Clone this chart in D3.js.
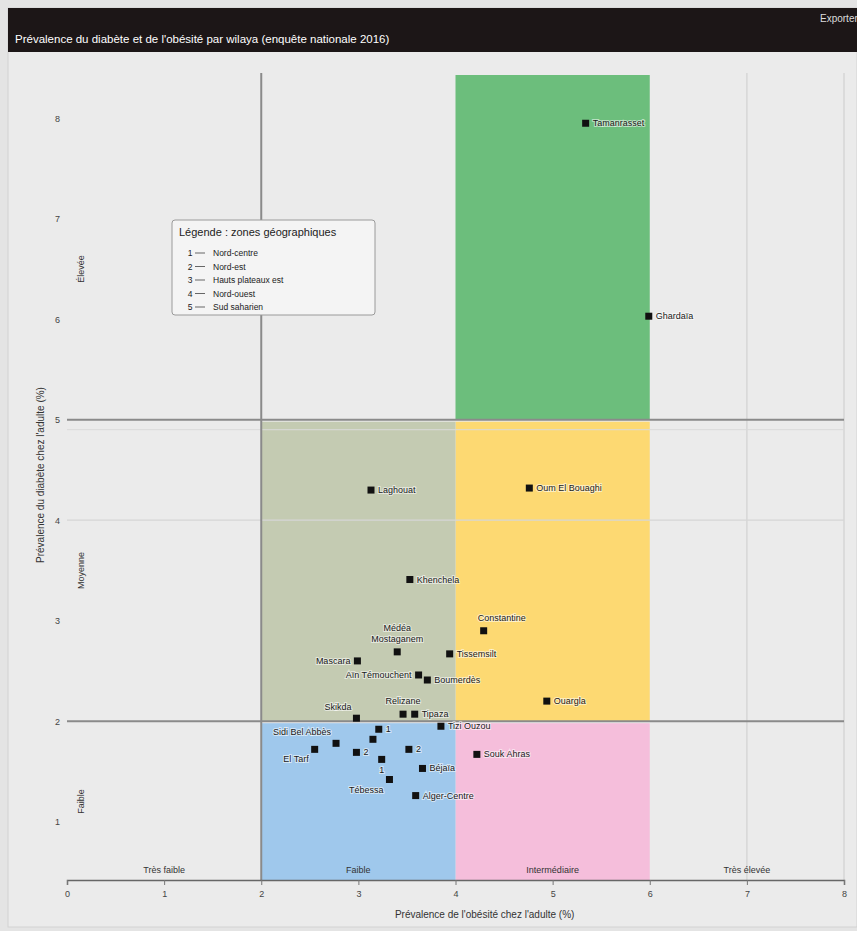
<!DOCTYPE html>
<html><head><meta charset="utf-8">
<script src="https://cdn.jsdelivr.net/npm/d3@7"></script>
<style>
body{margin:0;background:#e4e4e4;}
text{font-family:"Liberation Sans",Arial,sans-serif;}
</style></head><body>
<script>
// ---- data ----
const names = ["Tamanrasset","Ghardaïa","Laghouat","Oum El Bouaghi","Khenchela","Constantine","Tissemsilt","Médéa|Mostaganem","Mascara","Aïn Témouchent","Boumerdès","Ouargla","Relizane","Tipaza","Skikda","Tizi Ouzou","1","","El Tarf","Sidi Bel Abbès","2","1","2","Tébessa","Béjaïa","Souk Ahras","Alger-Centre"];
const xVals = [5.34,5.99,3.13,4.76,3.53,4.29,3.94,3.40,2.99,3.62,3.71,4.94,3.46,3.58,2.98,3.85,3.21,3.15,2.55,2.77,2.98,3.24,3.52,3.32,3.66,4.22,3.59];
const yVals = [7.95,6.03,4.30,4.32,3.41,2.90,2.67,2.69,2.60,2.46,2.41,2.20,2.07,2.07,2.03,1.95,1.92,1.82,1.72,1.78,1.69,1.62,1.72,1.42,1.53,1.67,1.26];
const labelSide = ["r","r","r","r","r","ar","r","a","l","l","r","r","a","r","al","r","r","r","bl","al","r","b","r","bl","r","r","r"];
const xTicks = [0,1,2,3,4,5,6,7,8];
const yTicks = [1,2,3,4,5,6,7,8];
const xThresholds = [2,4,6];
const yThresholds = [2,5];
const xBandNames = ["Très faible","Faible","Intermédiaire","Très élevée"];
const xBandMids = [1,3,5,7];
const yBandNames = ["Faible","Moyenne","Élevée"];
const yBandMids = [1.2,3.5,6.5];
const legendItems = ["Nord-centre","Nord-est","Hauts plateaux est","Nord-ouest","Sud saharien"];
const title = "Prévalence du diabète et de l'obésité par wilaya (enquête nationale 2016)";
const xTitle = "Prévalence de l'obésité chez l'adulte (%)";
const yTitle = "Prévalence du diabète chez l'adulte (%)";

// ---- layout ----
const W = 857, H = 931;
const svg = d3.select("body").append("svg").attr("width", W).attr("height", H);
const x = d3.scaleLinear().domain([0, 8]).range([67, 844]);
const y = d3.scaleLinear().domain([0.42, 8.45]).range([880, 73]);

// frame
svg.append("rect").attr("x",8).attr("y",8).attr("width",W-8).attr("height",919).attr("fill","#ebebeb").attr("stroke","#d2d2d2");
svg.append("rect").attr("x",8).attr("y",8).attr("width",W-8).attr("height",44).attr("fill","#1c1617");
svg.append("text").attr("x",15).attr("y",43).attr("fill","#fff").attr("font-size",11.5).text(title);
svg.append("text").attr("x",820).attr("y",22).attr("fill","#ddd").attr("font-size",10).text("Exporter");

// bands
const yTop = y.domain()[1], yBot = y.domain()[0];
const bands = [
  {x0:xThresholds[1], x1:xThresholds[2], y0:yThresholds[1], y1:yTop, c:"#6cbe7c"},
  {x0:xThresholds[1], x1:xThresholds[2], y0:yThresholds[0], y1:yThresholds[1], c:"#fdd972"},
  {x0:xThresholds[1], x1:xThresholds[2], y0:yBot, y1:yThresholds[0], c:"#f5bedb"},
  {x0:xThresholds[0], x1:xThresholds[1], y0:yThresholds[0], y1:yThresholds[1], c:"#c4cbb2"},
  {x0:xThresholds[0], x1:xThresholds[1], y0:yBot, y1:yThresholds[0], c:"#9fc8ec"}
];
svg.append("g").selectAll("rect").data(bands).join("rect")
  .attr("x", d => x(d.x0)).attr("width", d => x(d.x1) - x(d.x0))
  .attr("y", d => y(d.y1) + 2).attr("height", d => y(d.y0) - y(d.y1) - 2)
  .attr("fill", d => d.c);

// light gridlines
const g = svg.append("g");
[7,8].forEach(v => g.append("line").attr("x1",x(v)).attr("x2",x(v)).attr("y1",y(yTop)).attr("y2",y(yBot)).attr("stroke","#d6d6d6").attr("stroke-width",1.5));
[4].forEach(v => g.append("line").attr("x1",x(0)).attr("x2",x(8)).attr("y1",y(v)).attr("y2",y(v)).attr("stroke","#d6d6d6").attr("stroke-width",1.2));
g.append("line").attr("x1",x(0)).attr("x2",x(8)).attr("y1",y(yThresholds[1])+10).attr("y2",y(yThresholds[1])+10).attr("stroke","#dadada");

// threshold lines
yThresholds.forEach(v => g.append("line").attr("x1",x(0)).attr("x2",x(8)).attr("y1",y(v)).attr("y2",y(v)).attr("stroke","#8a8a8a").attr("stroke-width",2));
g.append("line").attr("x1",x(xThresholds[0])).attr("x2",x(xThresholds[0])).attr("y1",y(yTop)).attr("y2",y(yBot)).attr("stroke","#8a8a8a").attr("stroke-width",2);

// axes
const xAxis = svg.append("g").attr("transform",`translate(0,${y(yBot)})`)
  .call(d3.axisBottom(x).tickValues(xTicks).tickFormat(d3.format("d")).tickSize(5).tickPadding(6));
xAxis.select(".domain").attr("stroke","#666").attr("stroke-width",1.5);
xAxis.selectAll(".tick line").attr("stroke","#777");
xAxis.selectAll("text").attr("font-size",9).attr("fill","#444");
const yAxis = svg.append("g").attr("transform",`translate(${x(0)},0)`)
  .call(d3.axisLeft(y).tickValues(yTicks).tickFormat(d3.format("d")).tickSize(0).tickPadding(7));
yAxis.select(".domain").remove();
yAxis.selectAll("text").attr("font-size",9).attr("fill","#444");

svg.append("text").attr("x",(x(3.4)+x(5.2))/2).attr("y",918).attr("text-anchor","middle").attr("font-size",10).attr("fill","#333").text(xTitle);
svg.append("text").attr("transform",`translate(44,${(360+590)/2}) rotate(-90)`).attr("text-anchor","middle").attr("font-size",10).attr("fill","#333").text(yTitle);

// band names
svg.append("g").selectAll("text").data(xBandNames).join("text")
  .attr("x",(d,i)=>x(xBandMids[i])).attr("y",y(yBot)-7).attr("text-anchor","middle")
  .attr("font-size",9).attr("fill","#333").text(d=>d);
svg.append("g").selectAll("text").data(yBandNames).join("text")
  .attr("transform",(d,i)=>`translate(84,${y(yBandMids[i])}) rotate(-90)`).attr("text-anchor","middle")
  .attr("font-size",9).attr("fill","#333").text(d=>d);

// legend
const lg = svg.append("g").attr("transform","translate(172,220)");
lg.append("rect").attr("width",203).attr("height",95).attr("rx",3).attr("fill","#f4f4f4").attr("stroke","#9a9a9a");
lg.append("text").attr("x",7).attr("y",16).attr("font-size",11).attr("fill","#222").text("Légende : zones géographiques");
lg.selectAll(".it").data(legendItems).join("g").attr("class","it")
  .attr("transform",(d,i)=>`translate(0,${36+i*13.5})`)
  .each(function(d,i){
    const s = d3.select(this);
    s.append("text").attr("x",18).attr("y",0).attr("font-size",8.5).attr("fill","#222").attr("text-anchor","middle").text(i+1);
    s.append("line").attr("x1",23).attr("x2",33).attr("y1",-3).attr("y2",-3).attr("stroke","#666");
    s.append("text").attr("x",41).attr("y",0).attr("font-size",8.5).attr("fill","#222").text(d);
  });

// points
const pts = names.map((n,i)=>({n, x:xVals[i], y:yVals[i], s:labelSide[i]}));
svg.append("g").selectAll("rect").data(pts).join("rect")
  .attr("x",d=>x(d.x)-3.5).attr("y",d=>y(d.y)-3.5).attr("width",7).attr("height",7).attr("fill","#111");
const off = {r:[7,3,"start"], l:[-7,3,"end"], a:[0,-10,"middle"], ar:[-6,-10,"start"], al:[-5,-8,"end"], bl:[-6,13,"end"], b:[0,14,"middle"]};
const lab = svg.append("g").selectAll("text").data(pts.filter(d=>d.n)).join("text")
  .attr("x",d=>x(d.x)+off[d.s][0]).attr("y",d=>y(d.y)+off[d.s][1]).attr("text-anchor",d=>off[d.s][2])
  .attr("font-size",9).attr("fill","#1a1a1a")
  .attr("stroke","#ffffff").attr("stroke-opacity",0.55).attr("stroke-width",2).attr("paint-order","stroke");
lab.each(function(d){
  const parts = d.n.split("|");
  const t = d3.select(this);
  parts.forEach((p,k)=>t.append("tspan").attr("x",t.attr("x")).attr("dy",k===0?(-(parts.length-1)*11):11).text(p));
});
</script>
</body></html>
